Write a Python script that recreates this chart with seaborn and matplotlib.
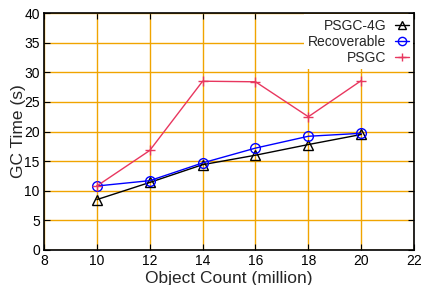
import seaborn as sns
import matplotlib.pyplot as plt
import pandas as pd

counts = [10, 12, 14, 16, 18, 20]
psgc_4g = [8.5, 11.4, 14.4, 16.0, 17.8, 19.5]
recoverable = [10.8, 11.7, 14.7, 17.2, 19.2, 19.7]
psgc = [10.8, 16.8, 28.5, 28.4, 22.5, 28.6]

series = ['PSGC-4G', 'Recoverable', 'PSGC']
colors = {'PSGC-4G': 'black', 'Recoverable': '#0000ff', 'PSGC': '#e8375f'}
marks = {'PSGC-4G': '^', 'Recoverable': 'o', 'PSGC': '+'}

df = pd.DataFrame({'PSGC-4G': psgc_4g, 'Recoverable': recoverable,
                   'PSGC': psgc, 'count': counts})
long = df.melt(id_vars='count', var_name='series', value_name='time')

sns.set_style('ticks')
plt.rcParams['font.family'] = ['Liberation Sans', 'DejaVu Sans']

fig = plt.figure(figsize=(4.23, 2.85), dpi=100)
ax = fig.add_axes([0.104, 0.123, 0.875, 0.831])

for name in series:
    sub = long[long['series'] == name]
    sns.lineplot(data=sub, x='count', y='time', ax=ax, label=name,
                 color=colors[name], marker=marks[name], markersize=7,
                 markerfacecolor='none', markeredgecolor=colors[name],
                 markeredgewidth=1.0, linewidth=1.0)

ax.set_xlim(8, 22)
ax.set_ylim(0, 40)
ax.set_xticks(range(8, 23, 2))
ax.set_yticks(range(0, 41, 5))
ax.grid(True, color='#f0a400', linewidth=1.0)
ax.set_axisbelow(True)
for s in ax.spines.values():
    s.set_color('black')
    s.set_linewidth(1.2)
ax.tick_params(direction='in', top=True, right=True, length=4,
               labelsize=10, colors='black', pad=3)
ax.set_xlabel('Object Count (million)', fontsize=12.5, labelpad=2)
ax.set_ylabel('GC Time (s)', fontsize=12.5, labelpad=-1)

leg = ax.legend(loc='upper right', markerfirst=False, fontsize=10,
                frameon=True, framealpha=1, edgecolor='none',
                facecolor='white', fancybox=False, handlelength=1.0,
                handletextpad=0.6, labelspacing=0.15, borderpad=0.3,
                borderaxespad=0.1, markerscale=0.85)
for t in leg.get_texts():
    t.set_ha('right')

fig.savefig('out.png', dpi=100)
